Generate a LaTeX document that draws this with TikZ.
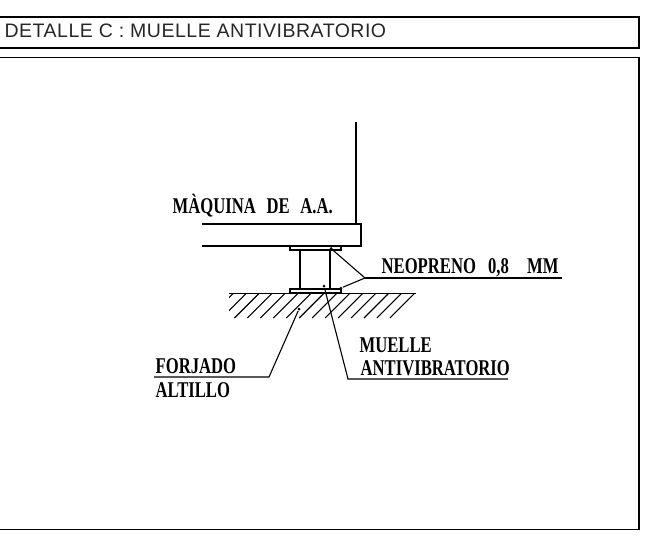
\documentclass[tikz,border=0pt]{standalone}
\usepackage{fontspec}
\usetikzlibrary{arrows,positioning}
\newfontfamily\titlefont[LetterSpace=2.6]{Liberation Sans}
\newfontfamily\labelfont[FakeStretch=0.74,WordSpace=2.2]{Liberation Serif Bold}
\begin{document}
\begin{tikzpicture}[x=1pt,y=-1pt,line width=1.3pt,
  label node/.style={anchor=base west,inner sep=0pt,font=\labelfont\fontsize{22.5}{22.5}\selectfont},
  title node/.style={anchor=base west,inner sep=0pt,text=black!85,font=\titlefont\fontsize{19.5}{19.5}\selectfont},
  tip node/.style={circle,fill=black,minimum size=3pt,inner sep=0pt},
  leader/.style={line width=1.1pt}]
\useasboundingbox (0,0) rectangle (653,541);
% frames
\draw[line width=1.5pt] (0,17) -- (639,17) -- (639,48) -- (0,48);
\draw[line width=1.5pt] (0,57.5) -- (639,57.5) -- (639,529.5) -- (0,529.5);
\node[title node] (title) at (4,37) {DETALLE C : MUELLE ANTIVIBRATORIO};
% machine
\draw (356,122) -- (356,224);
\draw (202,224) -- (361,224) -- (361,246) -- (202,246);
% spring and plates
\draw (290,246) rectangle (341,250);
\draw (300,250) -- (300,289);
\draw (330,250) -- (330,289);
\draw (290,289) rectangle (341,293);
% floor
\draw (229,293.5) -- (416,293.5);
\begin{scope}
\clip (229,293.5) rectangle (416,319);
\foreach \k in {0,...,14}
  \draw[line width=1.1pt] (233.1+12.95*\k,293.5) -- ++(-24.5,24.5);
\end{scope}
% labels
\node[label node] (maquina) at (172,213) {MÀQUINA\hspace{1.5pt} DE\hspace{1.5pt} A.A.};
\node[label node] (neopreno) at (381,273.5) {NEOPRENO\hspace{3pt} 0,8\hspace{9pt} MM};
\node[label node] (muelle) at (359,352) {MUELLE};
\node[label node] (antivib) at (360,375.5) {ANTIVIBRATORIO};
\node[label node] (forjado) at (155,373) {FORJADO};
\node[label node] (altillo) at (155,397) {ALTILLO};
% leaders
\node[tip node] (t1) at (331,248.5) {};
\node[tip node] (t2) at (341,288) {};
\node[tip node] (t3) at (324,286) {};
\node[tip node] (t4) at (299,309) {};
\coordinate (n0) at (365,278);
\coordinate (n1) at (562,278);
\coordinate (m0) at (348,379);
\coordinate (m1) at (508,379);
\coordinate (f0) at (269,377);
\coordinate (f1) at (154,377);
\draw[leader] (t1) -- (n0);
\draw[leader] (t2) -- (n0);
\draw[leader] (n0) -- (n1);
\draw[leader] (t3) -- (m0) -- (m1);
\draw[leader] (t4) -- (f0) -- (f1);
\end{tikzpicture}
\end{document}
